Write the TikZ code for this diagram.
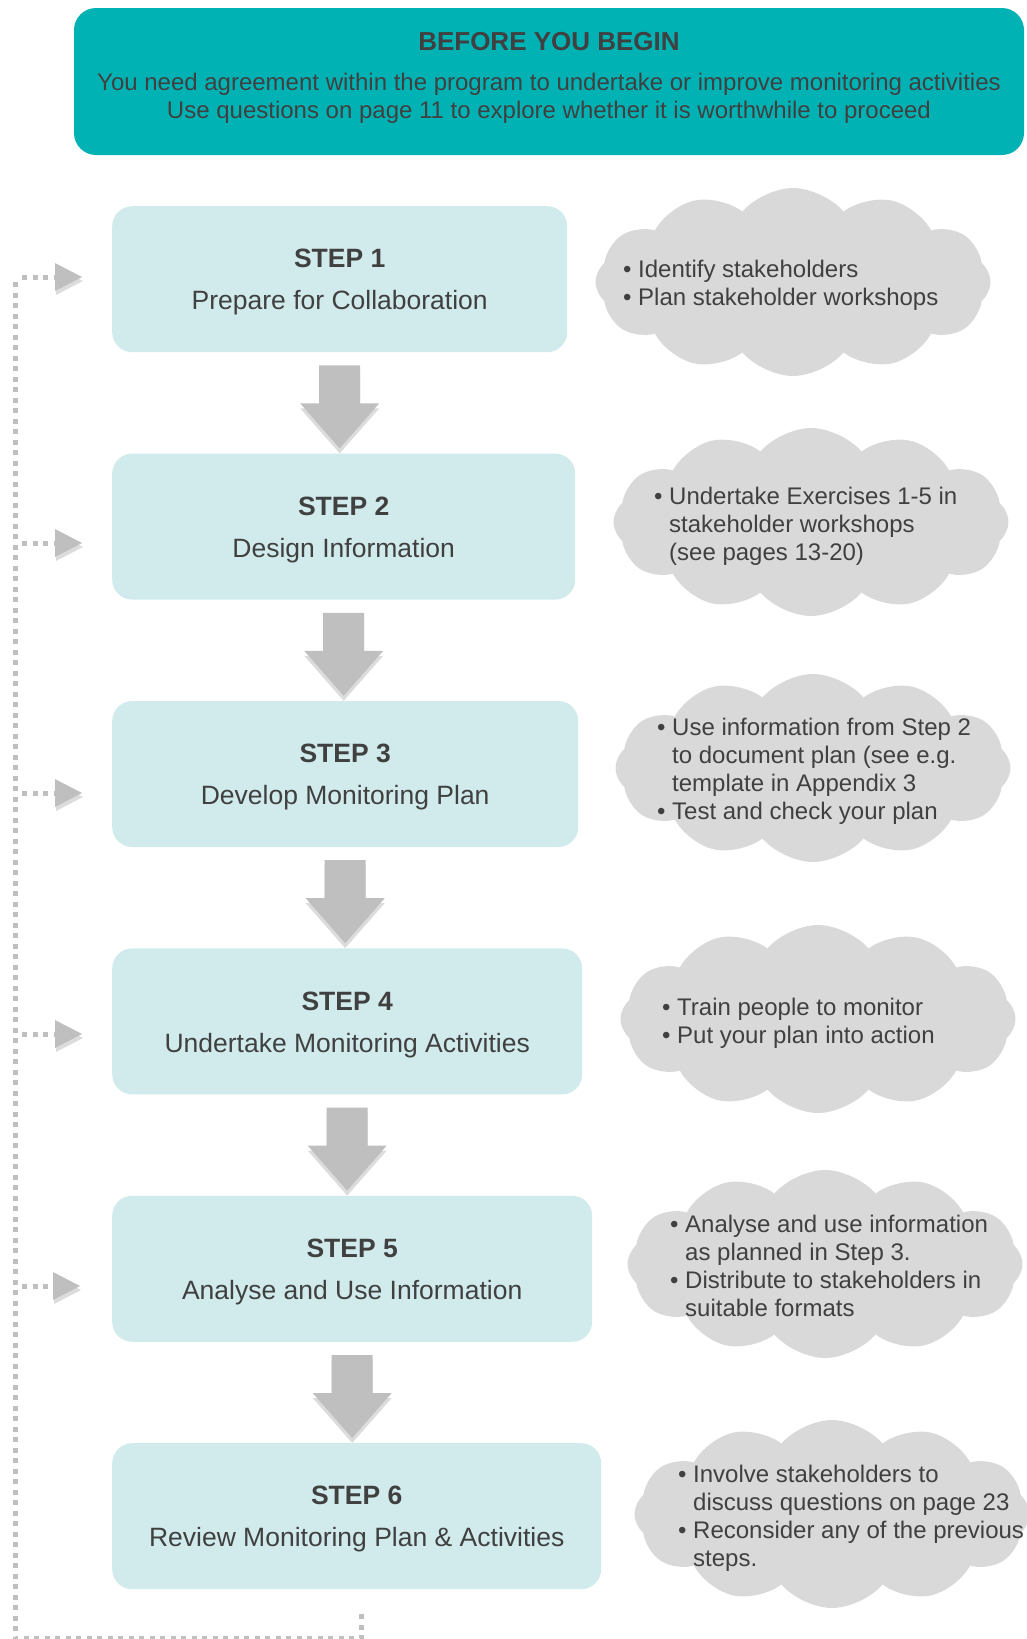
\documentclass[tikz,border=0pt]{standalone}
\usepackage{fontspec}
\setmainfont{Liberation Sans}
\usepackage{tikz}
\usetikzlibrary{positioning,shapes.symbols}

\definecolor{beginteal}{HTML}{00B2B4}
\definecolor{steplight}{HTML}{D1EBEC}
\definecolor{cloudgrey}{HTML}{D9D9D9}
\definecolor{arrowgrey}{HTML}{BFBFBF}
\definecolor{shadegrey}{HTML}{DCDCDC}
\definecolor{textgrey}{HTML}{404040}

\newcommand{\cbul}{\makebox[15pt][l]{\textbullet}}
\newcommand{\cind}{\hspace*{15pt}}

\begin{document}
\begin{tikzpicture}[x=1pt, y=-1pt,
    beginbox/.style={rectangle, rounded corners=22pt, fill=beginteal, text=textgrey, minimum width=950pt, minimum height=147pt, align=center, font=\fontsize{24}{28}\selectfont},
    stepbox/.style={rectangle, rounded corners=20pt, fill=steplight, text=textgrey, minimum height=146pt, align=center, font=\fontsize{26.5}{42}\selectfont},
    cloudbox/.style={cloud, cloud puffs=12, cloud puff arc=100, aspect=2.1, fill=cloudgrey, minimum width=395pt, minimum height=188pt, inner sep=0pt},
    cloudtext/.style={anchor=west, inner sep=0pt, align=left, text=textgrey, font=\fontsize{24}{28}\selectfont},
    blockarrow/.style={fill=arrowgrey},
    blockshade/.style={fill=shadegrey},
    loopline/.style={draw=arrowgrey, line width=5pt, dash pattern=on 5pt off 5.5pt}
    ]
        \useasboundingbox (0,0) rectangle (1026,1639);

        %Header
        \node[beginbox] (begin) at (549,81.5)
            {{\fontsize{26}{28}\selectfont\bfseries BEFORE YOU BEGIN}\\[12pt]
             You need agreement within the program to undertake or improve monitoring activities\\
             Use questions on page 11 to explore whether it is worthwhile to proceed\rule[-13pt]{0pt}{0pt}};

        %Steps
        \node[stepbox, minimum width=455pt, anchor=north west]
            (s1) at (112,206)    {\rule{0pt}{25pt}\textbf{STEP 1}\\Prepare for Collaboration};
        \node[stepbox, minimum width=463pt, below=101pt of s1.south west, anchor=north west]
            (s2)                 {\rule{0pt}{25pt}\textbf{STEP 2}\\Design Information};
        \node[stepbox, minimum width=466pt, below=101pt of s2.south west, anchor=north west]
            (s3)                 {\rule{0pt}{25pt}\textbf{STEP 3}\\Develop Monitoring Plan};
        \node[stepbox, minimum width=470pt, below=101pt of s3.south west, anchor=north west]
            (s4)                 {\rule{0pt}{25pt}\textbf{STEP 4}\\Undertake Monitoring Activities};
        \node[stepbox, minimum width=480pt, below=101pt of s4.south west, anchor=north west]
            (s5)                 {\rule{0pt}{25pt}\textbf{STEP 5}\\Analyse and Use Information};
        \node[stepbox, minimum width=489pt, below=101pt of s5.south west, anchor=north west]
            (s6)                 {\rule{0pt}{25pt}\textbf{STEP 6}\\Review Monitoring Plan \& Activities};

        %Clouds
        \node[cloudbox] (c1) at (793,282)  {};
        \node[cloudbox] (c2) at (811,522)  {};
        \node[cloudbox] (c3) at (813,768)  {};
        \node[cloudbox] (c4) at (818,1019) {};
        \node[cloudbox] (c5) at (825,1264) {};
        \node[cloudbox] (c6) at (832,1514) {};

        \node[cloudtext] (t1) at (623,285)
            {\cbul Identify stakeholders\\\cbul Plan stakeholder workshops};
        \node[cloudtext] (t2) at (654,526)
            {\cbul Undertake Exercises 1-5 in\\\cind stakeholder workshops\\\cind (see pages 13-20)};
        \node[cloudtext] (t3) at (657,771)
            {\cbul Use information from Step 2\\\cind to document plan (see e.g.\\\cind template in Appendix 3\\\cbul Test and check your plan};
        \node[cloudtext] (t4) at (662,1023)
            {\cbul Train people to monitor\\\cbul Put your plan into action};
        \node[cloudtext] (t5) at (670,1266)
            {\cbul Analyse and use information\\\cind as planned in Step 3.\\\cbul Distribute to stakeholders in\\\cind suitable formats};
        \node[cloudtext] (t6) at (678,1518)
            {\cbul Involve stakeholders to\\\cind discuss questions on page 23\\\cbul Reconsider any of the previous\\\cind steps.};

        %Block arrows
        \fill[blockshade] ([yshift=-5pt]s1.south) ++(-20.5,13) -- ++(41,0) -- ++(0,38) -- ++(19,0) -- ++(-39.5,45) -- ++(-39.5,-45) -- ++(19,0) -- cycle;
        \fill[blockarrow] (s1.south) ++(-20.5,13) -- ++(41,0) -- ++(0,38) -- ++(19,0) -- ++(-39.5,45) -- ++(-39.5,-45) -- ++(19,0) -- cycle;
        \fill[blockshade] ([yshift=-5pt]s2.south) ++(-20.5,13) -- ++(41,0) -- ++(0,38) -- ++(19,0) -- ++(-39.5,45) -- ++(-39.5,-45) -- ++(19,0) -- cycle;
        \fill[blockarrow] (s2.south) ++(-20.5,13) -- ++(41,0) -- ++(0,38) -- ++(19,0) -- ++(-39.5,45) -- ++(-39.5,-45) -- ++(19,0) -- cycle;
        \fill[blockshade] ([yshift=-5pt]s3.south) ++(-20.5,13) -- ++(41,0) -- ++(0,38) -- ++(19,0) -- ++(-39.5,45) -- ++(-39.5,-45) -- ++(19,0) -- cycle;
        \fill[blockarrow] (s3.south) ++(-20.5,13) -- ++(41,0) -- ++(0,38) -- ++(19,0) -- ++(-39.5,45) -- ++(-39.5,-45) -- ++(19,0) -- cycle;
        \fill[blockshade] ([yshift=-5pt]s4.south) ++(-20.5,13) -- ++(41,0) -- ++(0,38) -- ++(19,0) -- ++(-39.5,45) -- ++(-39.5,-45) -- ++(19,0) -- cycle;
        \fill[blockarrow] (s4.south) ++(-20.5,13) -- ++(41,0) -- ++(0,38) -- ++(19,0) -- ++(-39.5,45) -- ++(-39.5,-45) -- ++(19,0) -- cycle;
        \fill[blockshade] ([yshift=-5pt]s5.south) ++(-20.5,13) -- ++(41,0) -- ++(0,38) -- ++(19,0) -- ++(-39.5,45) -- ++(-39.5,-45) -- ++(19,0) -- cycle;
        \fill[blockarrow] (s5.south) ++(-20.5,13) -- ++(41,0) -- ++(0,38) -- ++(19,0) -- ++(-39.5,45) -- ++(-39.5,-45) -- ++(19,0) -- cycle;

        %Feedback loop
        \coordinate (rail) at (15,0);
        \coordinate (fb1)  at (82,277);
        \coordinate (fb2)  at (82,543);
        \coordinate (fb3)  at (82,793);
        \coordinate (fb4)  at (82,1034);
        \coordinate (fb5)  at (80,1286);

        \draw[loopline] ([xshift=5pt,yshift=-25pt]s6.south) -- ++(0,24) -| (fb1 -| rail);

        \draw[loopline] (fb1 -| rail) ++(7,0) -- ++(33,0);
        \fill[blockshade] ([shift={(1pt,-4pt)}]fb1) -- ++(-27,-14) -- ++(0,28) -- cycle;
        \fill[blockarrow] (fb1) -- ++(-27,-14) -- ++(0,28) -- cycle;
        \draw[loopline] (fb2 -| rail) ++(7,0) -- ++(33,0);
        \fill[blockshade] ([shift={(1pt,-4pt)}]fb2) -- ++(-27,-14) -- ++(0,28) -- cycle;
        \fill[blockarrow] (fb2) -- ++(-27,-14) -- ++(0,28) -- cycle;
        \draw[loopline] (fb3 -| rail) ++(7,0) -- ++(33,0);
        \fill[blockshade] ([shift={(1pt,-4pt)}]fb3) -- ++(-27,-14) -- ++(0,28) -- cycle;
        \fill[blockarrow] (fb3) -- ++(-27,-14) -- ++(0,28) -- cycle;
        \draw[loopline] (fb4 -| rail) ++(7,0) -- ++(33,0);
        \fill[blockshade] ([shift={(1pt,-4pt)}]fb4) -- ++(-27,-14) -- ++(0,28) -- cycle;
        \fill[blockarrow] (fb4) -- ++(-27,-14) -- ++(0,28) -- cycle;
        \draw[loopline] (fb5 -| rail) ++(7,0) -- ++(31,0);
        \fill[blockshade] ([shift={(1pt,-4pt)}]fb5) -- ++(-27,-14) -- ++(0,28) -- cycle;
        \fill[blockarrow] (fb5) -- ++(-27,-14) -- ++(0,28) -- cycle;
    \end{tikzpicture}
\end{document}
